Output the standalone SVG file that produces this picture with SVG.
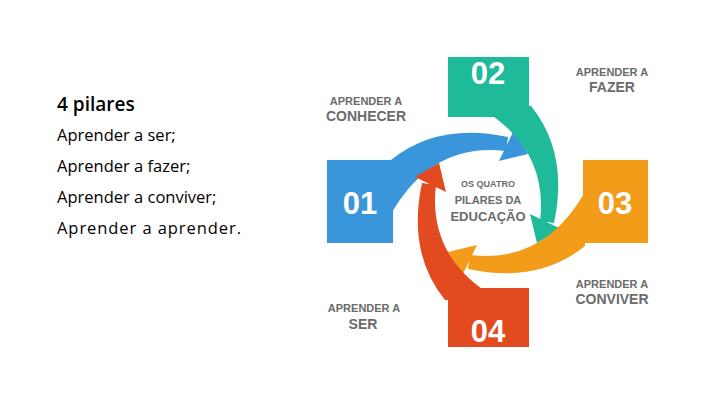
<svg xmlns="http://www.w3.org/2000/svg" width="720" height="405" viewBox="0 0 720 405">
<style>
.t{font-family:"Open Sans","Liberation Sans",Arial,sans-serif;fill:#000}
.n{font-family:"Liberation Sans",Arial,sans-serif;font-weight:bold;fill:#fff;font-size:31px;text-anchor:middle}
.l{font-family:"Liberation Sans",Arial,sans-serif;font-weight:bold;fill:#6b6b6b;text-anchor:middle}
</style>
<defs>
<g id="cres">
<path d="M391 160 Q438 122 508 137 L506 151 Q432 142 391 214 Z"/>
<path d="M514 130 L528 154 L499 161 Z"/>
</g>
</defs>
<rect width="720" height="405" fill="#fff"/>
<g id="text">
<text class="t" x="57" y="111" font-size="19" font-weight="600">4 pilares</text>
<text class="t" x="57" y="141" font-size="16.5">Aprender a ser;</text>
<text class="t" x="57" y="172" font-size="16.5">Aprender a fazer;</text>
<text class="t" x="57" y="203" font-size="16.5">Aprender a conviver;</text>
<text class="t" x="57" y="234" font-size="16.5" textLength="184">Aprender a aprender.</text>
</g>
<g id="connectors">
<use href="#cres" fill="#3a96db"/>
<use href="#cres" fill="#1fba9a" transform="rotate(90 488 203)"/>
<use href="#cres" fill="#f39c1a" transform="rotate(180 488 203)"/>
<use href="#cres" fill="#e24a1f" transform="rotate(270 488 203)"/>
</g>
<g id="n01"><rect x="327" y="160" width="66" height="83" fill="#3a96db"/><text class="n" x="360" y="214">01</text>
<text class="l" x="366" y="105" font-size="11">APRENDER A</text><text class="l" x="366" y="121" font-size="14">CONHECER</text></g>
<g id="n02"><rect x="448" y="57" width="81" height="60" fill="#1fba9a"/><text class="n" x="488" y="84">02</text>
<text class="l" x="612" y="76" font-size="11">APRENDER A</text><text class="l" x="612" y="92" font-size="14">FAZER</text></g>
<g id="n03"><rect x="583" y="160" width="65" height="83" fill="#f39c1a"/><text class="n" x="615" y="214">03</text>
<text class="l" x="612" y="288" font-size="11">APRENDER A</text><text class="l" x="612" y="304" font-size="14">CONVIVER</text></g>
<g id="n04"><rect x="448" y="288" width="81" height="59" fill="#e24a1f"/><text class="n" x="488" y="342">04</text>
<text class="l" x="364" y="312" font-size="11">APRENDER A</text><text class="l" x="363" y="329" font-size="14">SER</text></g>
<g id="center">
<text class="l" x="488" y="187" font-size="9" fill="#8a8a8a">OS QUATRO</text>
<text class="l" x="488" y="204" font-size="11">PILARES DA</text>
<text class="l" x="488" y="221" font-size="13">EDUCAÇÃO</text>
</g>
</svg>
